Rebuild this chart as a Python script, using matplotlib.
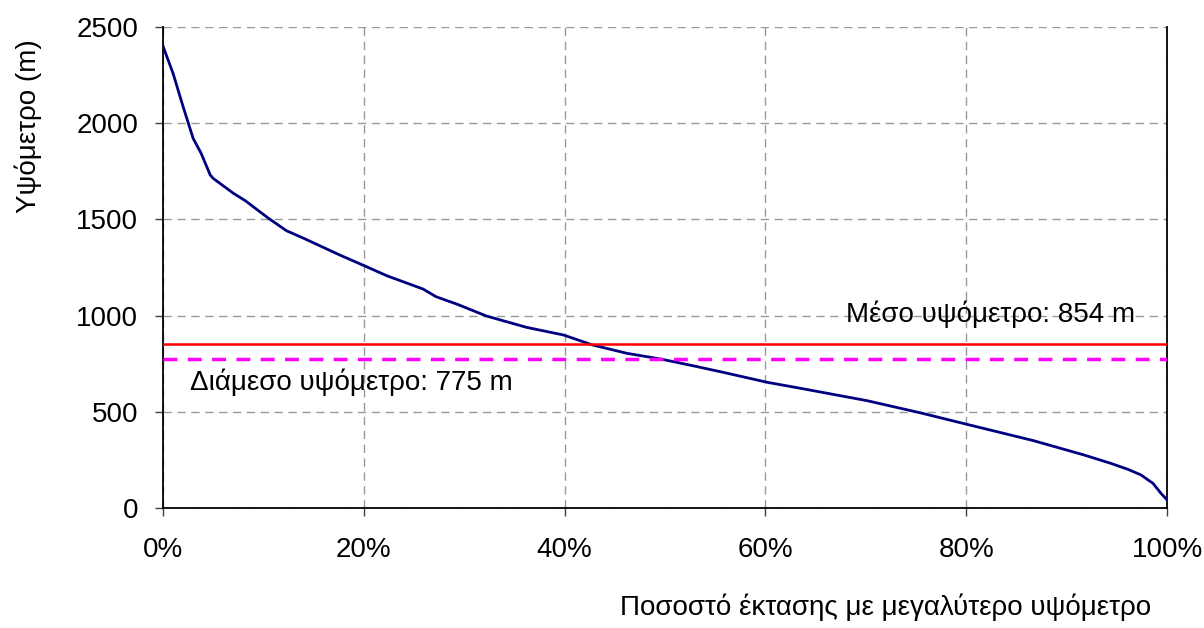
import numpy as np
import matplotlib.pyplot as plt
from matplotlib.ticker import PercentFormatter

# hypsometric curve (percent of area above elevation, elevation in m)
area_pct = [0.0, 1.0, 2.0, 3.0, 3.8, 4.7, 5.0, 7.0, 8.2, 10.5, 12.3, 14.0, 17.6,
            20.1, 22.3, 25.9, 27.2, 29.3, 32.2, 36.2, 39.9, 42.8, 46.2, 49.6,
            52.9, 55.8, 60.2, 63.5, 70.1, 75.4, 79.9, 86.7, 91.7, 94.4, 96.1,
            97.4, 98.6, 99.4, 100.0]
elevation = [2400, 2259, 2086, 1921, 1843, 1731, 1713, 1636, 1597, 1506, 1441,
             1402, 1315, 1258, 1207, 1138, 1098, 1059, 998, 939, 899, 847, 804,
             774, 738, 705, 653, 622, 558, 495, 437, 350, 276, 232, 201, 172,
             128, 76, 42]
mean_elev = 854
median_elev = 775

plt.rcParams['font.family'] = ['Liberation Sans', 'DejaVu Sans']
fs = 20

fig = plt.figure(figsize=(12.04, 6.28), dpi=100)
ax = fig.add_axes([0.1354, 0.1911, 0.8339, 0.7659])

ax.plot(area_pct, elevation, color='#000080', lw=2, zorder=3)
ax.axhline(mean_elev, color='#ff0000', lw=1.8, zorder=3)
ax.axhline(median_elev, color='#ff00ff', lw=2.5, ls=(0, (4, 3)), zorder=3)

ax.text(96.8, 965, 'Μέσο υψόμετρο: 854 m', ha='right', va='baseline', fontsize=fs)
ax.text(2.7, 613, 'Διάμεσο υψόμετρο: 775 m', ha='left', va='baseline', fontsize=fs)

ax.set_xlim(0, 100)
ax.set_ylim(0, 2500)
ax.set_xticks(np.arange(0, 101, 20))
ax.set_yticks(np.arange(0, 2501, 500))
ax.xaxis.set_major_formatter(PercentFormatter(decimals=0))
ax.tick_params(labelsize=fs, length=6, width=1, color='#404040')
ax.tick_params(axis='y', pad=12)
ax.tick_params(axis='x', pad=15)
ax.grid(True, color='#999999', ls=(0, (6, 4)), lw=1)

ax.spines['top'].set_visible(False)
for s in ['left', 'bottom', 'right']:
    ax.spines[s].set_color('black')
    ax.spines[s].set_linewidth(1.3)

ax.set_ylabel('Υψόμετρο (m)', fontsize=fs)
ax.yaxis.set_label_coords(-0.121, 0.794)
ax.set_xlabel('Ποσοστό έκτασης με μεγαλύτερο υψόμετρο', fontsize=fs)
ax.xaxis.set_label_coords(0.72, -0.177)

fig.savefig('out.png', dpi=100)
